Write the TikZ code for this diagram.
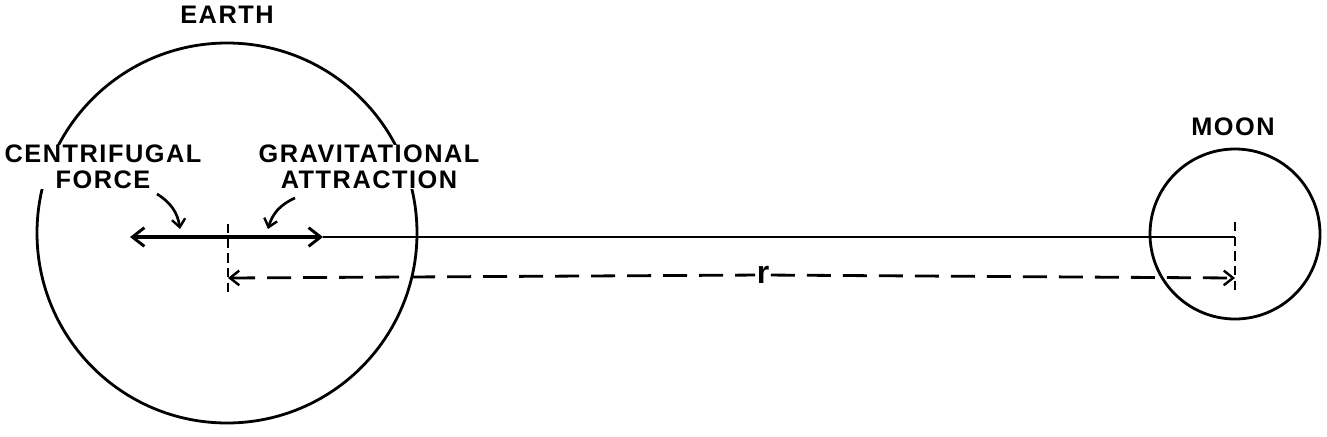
\documentclass[tikz,border=0pt]{standalone}
\usepackage{fontspec}
\setmainfont{Liberation Sans}[LetterSpace=6]
\usetikzlibrary{arrows.meta}
\begin{document}
\begin{tikzpicture}[x=0.75pt,y=-0.75pt,
  body/.style={draw,line width=2.1pt},
  lbl/.style={font=\fontsize{19}{19.5}\selectfont\bfseries,align=center,inner sep=0pt,fill=white,inner xsep=2pt},
  barb/.style={-{Straight Barb[length=9pt,width=14pt,line width=2.2pt]}},
  ]
\useasboundingbox (0,0) rectangle (1327,436);
\draw[body] (227,233) circle[radius=190];
\draw[body] (1235,234) circle[radius=85];
\node[lbl] (earth) at (227,15) {EARTH};
\node[lbl] (moon) at (1233,127) {MOON};
\node[lbl] (cf) at (103,167) {CENTRIFUGAL\\FORCE};
\node[lbl] (ga) at (369,167) {GRAVITATIONAL\\ATTRACTION};
\coordinate (ec) at (228,237);
\coordinate (mc) at (1235,237);
\coordinate (lt) at (130,237);
\coordinate (rt) at (323,237);
% main line
\draw[line width=2.1pt] (rt) -- (mc);
\draw[line width=3.2pt,barb] (ec) -- (lt);
\draw[line width=3.2pt,barb] (ec) -- (rt);
% dashed verticals
\coordinate (et) at (228,224);
\coordinate (eb) at (228,292);
\coordinate (mt) at (1235,222);
\coordinate (mb) at (1235,292);
\draw[line width=1.7pt,dash pattern=on 7pt off 4pt] (et) -- (eb);
\draw[line width=1.7pt,dash pattern=on 7pt off 4pt] (mt) -- (mb);
% r dimension
\coordinate (dl) at (228,278);
\coordinate (dr) at (1235,278);
\node[font=\fontsize{24}{24}\selectfont\bfseries,fill=white,inner sep=1pt] (r) at (763,275) {r};
\draw[line width=2.1pt,dash pattern=on 18pt off 9pt,{Straight Barb[length=7pt,width=11pt,line width=1.8pt]}-] (dl) -- (r);
\draw[line width=2.1pt,dash pattern=on 18pt off 9pt,-{Straight Barb[length=7pt,width=11pt,line width=1.8pt]}] (r) -- (dr);
% pointer arrows
\coordinate (cfs) at (157,194);
\coordinate (cfe) at (180,229);
\coordinate (gas) at (295,198);
\coordinate (gae) at (268,229);
\draw[line width=2pt,-{Straight Barb[length=6pt,width=10pt,line width=1.8pt]}] (cfs) to[bend left=25] (cfe);
\draw[line width=2pt,-{Straight Barb[length=6pt,width=10pt,line width=1.8pt]}] (gas) to[bend right=25] (gae);
\end{tikzpicture}
\end{document}
